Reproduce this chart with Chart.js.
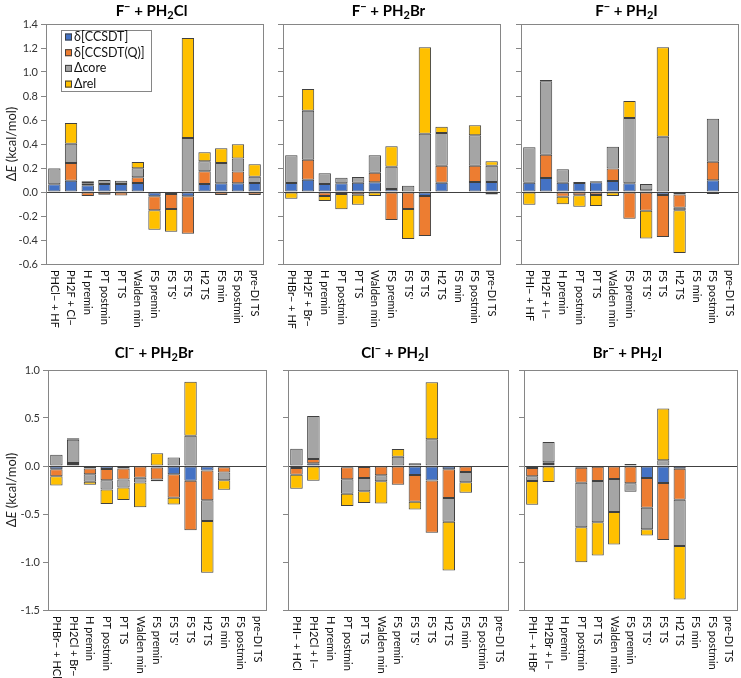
<!DOCTYPE html>
<html>
<head>
<meta charset="utf-8">
<script src="https://cdn.jsdelivr.net/npm/chart.js@4.4.0/dist/chart.umd.min.js"></script>
<style>
  body { margin: 0; background: #fff; width: 741px; height: 678px; position: relative; overflow: hidden; }
  .panel { position: absolute; }
</style>
</head>
<body>
<script>
/* ============================================================
   DATA
============================================================ */

const seriesNames = ["δ[CCSDT]", "δ[CCSDT(Q)]", "Δcore", "Δrel"];

const commonCats = ["H premin", "PT postmin", "PT TS", "Walden min", "FS premin",
                    "FS TS'", "FS TS", "H2 TS", "FS min", "FS postmin", "pre-DI TS"];

const cats1 = ["PHCl− + HF", "PH2F + Cl−"].concat(commonCats);
const cats2 = ["PHBr− + HF", "PH2F + Br−"].concat(commonCats);
const cats3 = ["PHI− + HF", "PH2F + I−"].concat(commonCats);
const cats4 = ["PHBr− + HCl", "PH2Cl + Br−"].concat(commonCats);
const cats5 = ["PHI− + HCl", "PH2Cl + I−"].concat(commonCats);
const cats6 = ["PHI− + HBr", "PH2Br + I−"].concat(commonCats);

// titles as [text, style] pieces (sup / sub)
const title1 = [["F"], ["−", "sup"], [" + PH"], ["2", "sub"], ["Cl"]];
const title2 = [["F"], ["−", "sup"], [" + PH"], ["2", "sub"], ["Br"]];
const title3 = [["F"], ["−", "sup"], [" + PH"], ["2", "sub"], ["I"]];
const title4 = [["Cl"], ["−", "sup"], [" + PH"], ["2", "sub"], ["Br"]];
const title5 = [["Cl"], ["−", "sup"], [" + PH"], ["2", "sub"], ["I"]];
const title6 = [["Br"], ["−", "sup"], [" + PH"], ["2", "sub"], ["I"]];

const yTitle = [["Δ"], ["E", "i"], [" (kcal/mol)"]];

// F- + PH2Cl
const p1Ccsdt  = [0.065, 0.094, 0.056, 0.067, 0.067, 0.075, -0.036, -0.017, -0.036, 0.067, 0.072, 0.072, 0.075];
const p1Ccsdtq = [null, 0.148, -0.033, -0.022, -0.030, 0.047, -0.117, -0.125, -0.311, 0.106, -0.025, 0.098, -0.025];
const p1Core   = [0.130, 0.161, 0.016, 0.033, 0.027, 0.075, null, null, 0.450, 0.083, 0.170, 0.110, 0.053];
const p1Rel    = [0.005, 0.172, 0.017, null, null, 0.053, -0.161, -0.190, 0.833, 0.075, 0.122, 0.117, 0.103];

// F- + PH2Br
const p2Ccsdt  = [0.075, 0.103, 0.067, 0.072, 0.078, 0.081, 0.025, null, -0.033, 0.078, null, 0.083, 0.083];
const p2Ccsdtq = [null, 0.166, -0.033, -0.017, -0.022, 0.080, -0.233, -0.142, -0.334, 0.141, null, 0.136, -0.020];
const p2Core   = [0.231, 0.409, 0.089, 0.047, 0.047, 0.145, 0.186, 0.053, 0.486, 0.273, null, 0.253, 0.136];
const p2Rel    = [-0.056, 0.180, -0.042, -0.127, -0.084, -0.033, 0.170, -0.250, 0.720, 0.052, null, 0.084, 0.037];

// F- + PH2I
const p3Ccsdt  = [0.078, 0.117, 0.078, 0.075, 0.081, 0.092, 0.072, 0.014, -0.025, -0.020, null, 0.097, null];
const p3Ccsdtq = [null, 0.193, -0.040, -0.028, -0.025, 0.103, -0.222, -0.156, -0.350, -0.111, null, 0.156, null];
const p3Core   = [0.295, 0.612, 0.112, 0.008, 0.008, 0.183, 0.545, 0.053, 0.461, -0.022, null, 0.357, null];
const p3Rel    = [-0.106, 0.011, -0.063, -0.094, -0.092, -0.033, 0.141, -0.231, 0.745, -0.355, null, -0.017, null];

// Cl- + PH2Br
const p4Ccsdt  = [-0.033, 0.010, -0.026, -0.030, -0.026, -0.004, -0.015, -0.085, -0.154, -0.047, -0.012, null, null];
const p4Ccsdtq = [-0.073, 0.020, -0.059, -0.118, -0.114, -0.119, -0.125, -0.247, -0.515, -0.309, -0.055, null, null];
const p4Core   = [0.117, 0.243, -0.080, -0.097, -0.084, -0.049, -0.018, 0.089, 0.315, -0.216, -0.081, null, null];
const p4Rel    = [-0.097, 0.017, -0.031, -0.150, -0.129, -0.258, 0.134, -0.069, 0.563, -0.539, -0.100, null, null];

// Cl- + PH2I
const p5Ccsdt  = [-0.020, 0.028, null, -0.014, -0.010, -0.005, null, -0.094, -0.150, -0.035, -0.005, null, null];
const p5Ccsdtq = [-0.070, 0.045, null, -0.125, -0.115, -0.092, -0.195, -0.278, -0.545, -0.299, -0.058, null, null];
const p5Core   = [0.180, 0.449, null, -0.150, -0.139, -0.063, 0.097, 0.028, 0.278, -0.246, -0.107, null, null];
const p5Rel    = [-0.146, -0.153, null, -0.128, -0.122, -0.230, 0.080, -0.080, 0.595, -0.508, -0.108, null, null];

// Br- + PH2I
const p6Ccsdt  = [-0.020, 0.020, null, -0.017, -0.007, null, 0.010, -0.125, -0.178, -0.028, null, null, null];
const p6Ccsdtq = [-0.088, 0.020, null, -0.157, -0.150, -0.136, -0.180, -0.310, -0.594, -0.323, null, null, null];
const p6Core   = [-0.049, 0.210, null, -0.463, -0.428, -0.344, -0.088, -0.225, 0.059, -0.483, null, null, null];
const p6Rel    = [-0.247, -0.167, null, -0.366, -0.348, -0.338, 0.010, -0.064, 0.541, -0.556, null, null, null];


/* ============================================================
   LAYOUT + STYLE
============================================================ */

const colors = ["#4472C4", "#ED7D31", "#A5A5A5", "#FFC000"];
const FONT = "Lato, 'Open Sans', sans-serif";

const rows = [
    { top: 0,   h: 335, T: 24,  B: 264, min: -0.6, max: 1.4, step: 0.2, titleY: 11 },
    { top: 335, h: 343, T: 370, B: 610, min: -1.5, max: 1.0, step: 0.5, titleY: 18 }
];

const panels = [
    { title: title1, cats: cats1, series: [p1Ccsdt, p1Ccsdtq, p1Core, p1Rel], row: 0, L: 46,  R: 263, yLabels: true,  legend: true },
    { title: title2, cats: cats2, series: [p2Ccsdt, p2Ccsdtq, p2Core, p2Rel], row: 0, L: 283, R: 500, yLabels: false, legend: false },
    { title: title3, cats: cats3, series: [p3Ccsdt, p3Ccsdtq, p3Core, p3Rel], row: 0, L: 521, R: 738, yLabels: false, legend: false },
    { title: title4, cats: cats4, series: [p4Ccsdt, p4Ccsdtq, p4Core, p4Rel], row: 1, L: 48,  R: 266, yLabels: true,  legend: false },
    { title: title5, cats: cats5, series: [p5Ccsdt, p5Ccsdtq, p5Core, p5Rel], row: 1, L: 288, R: 508, yLabels: false, legend: false },
    { title: title6, cats: cats6, series: [p6Ccsdt, p6Ccsdtq, p6Core, p6Rel], row: 1, L: 524, R: 737, yLabels: false, legend: false }
];

const YAXIS_W = 46;


/* ============================================================
   RICH TEXT (sup / sub / italic)
============================================================ */

function pieceFont(style, size, weight) {
    const s = (style === "sup" || style === "sub") ? Math.round(size * 0.7) : size;
    const it = style === "i" ? "italic " : "";
    return `${it}${weight} ${s}px ${FONT}`;
}

function drawRich(ctx, pieces, cx, cy, size, weight) {
    let total = 0;
    pieces.forEach(p => {
        ctx.font = pieceFont(p[1], size, weight);
        total += ctx.measureText(p[0]).width;
    });
    let x = cx - total / 2;
    ctx.textAlign = "left";
    ctx.textBaseline = "middle";
    pieces.forEach(p => {
        ctx.font = pieceFont(p[1], size, weight);
        let dy = 0;
        if (p[1] === "sup") dy = -size * 0.3;
        if (p[1] === "sub") dy = size * 0.28;
        ctx.fillText(p[0], x, cy + dy);
        x += ctx.measureText(p[0]).width;
    });
}


/* ============================================================
   DECORATION PLUGIN
============================================================ */

const deco = {
    id: "deco",
    beforeDatasetsDraw(chart) {
        const { ctx, chartArea: a, scales } = chart;
        const y0 = Math.round(scales.y.getPixelForValue(0)) + 0.5;
        ctx.save();
        ctx.strokeStyle = "#404040";
        ctx.lineWidth = 1;
        ctx.beginPath();
        ctx.moveTo(a.left, y0);
        ctx.lineTo(a.right, y0);
        ctx.stroke();
        ctx.restore();
    },
    afterDraw(chart, args, opts) {
        const { ctx, chartArea: a, scales } = chart;
        const p = opts.panel;
        const row = rows[p.row];

        ctx.save();

        // plot border
        ctx.strokeStyle = "#868686";
        ctx.lineWidth = 1;
        ctx.strokeRect(Math.round(a.left) + 0.5, Math.round(a.top) + 0.5,
                       Math.round(a.right - a.left), Math.round(a.bottom - a.top));

        // title
        ctx.fillStyle = "#000";
        drawRich(ctx, p.title, (a.left + a.right) / 2 - 3, row.titleY, 15, "bold");

        // y title
        if (p.yLabels) {
            ctx.save();
            ctx.translate(12 - (p.L - YAXIS_W), (a.top + a.bottom) / 2);
            ctx.rotate(-Math.PI / 2);
            ctx.fillStyle = "#222";
            drawRich(ctx, yTitle, 0, 0, 13, "normal");
            ctx.restore();
        }

        // category labels, rotated to read top-to-bottom
        ctx.fillStyle = "#111";
        ctx.font = `11px ${FONT}`;
        ctx.textAlign = "left";
        ctx.textBaseline = "middle";
        chart.data.labels.forEach((lab, i) => {
            const x = scales.x.getPixelForValue(i);
            ctx.save();
            ctx.translate(x, a.bottom + 6);
            ctx.rotate(Math.PI / 2);
            ctx.fillText(lab, 0, 0);
            ctx.restore();
        });

        // legend inside first panel
        if (p.legend) {
            ctx.font = `12.5px ${FONT}`;
            let tw = 0;
            seriesNames.forEach(n => { tw = Math.max(tw, ctx.measureText(n).width); });
            const lx = a.left + 15, ly = a.top + 6, lw = Math.round(tw + 19), lh = 61;
            ctx.fillStyle = "#fff";
            ctx.fillRect(lx, ly, lw, lh);
            ctx.strokeStyle = "#868686";
            ctx.strokeRect(lx + 0.5, ly + 0.5, lw, lh);
            ctx.textBaseline = "middle";
            seriesNames.forEach((n, k) => {
                const cy = ly + 7 + k * 15.7;
                ctx.fillStyle = colors[k];
                ctx.fillRect(lx + 4, cy - 3.5, 7, 7);
                ctx.strokeStyle = "#404040";
                ctx.strokeRect(lx + 4.5, cy - 3, 6, 6);
                ctx.fillStyle = "#111";
                ctx.fillText(n, lx + 13, cy);
            });
        }

        ctx.restore();
    }
};


/* ============================================================
   BUILD CHARTS
============================================================ */

function fmtTick(v) {
    if (Math.abs(v) < 1e-9) return "0.0";
    return v.toFixed(1);
}

panels.forEach(p => {
    const row = rows[p.row];
    const left = p.L - YAXIS_W;
    const width = p.R - left + 4;

    const div = document.createElement("div");
    div.className = "panel";
    div.style.left = left + "px";
    div.style.top = row.top + "px";
    const canvas = document.createElement("canvas");
    canvas.width = width;
    canvas.height = row.h;
    canvas.style.width = width + "px";
    canvas.style.height = row.h + "px";
    div.appendChild(canvas);
    document.body.appendChild(div);

    new Chart(canvas, {
        type: "bar",
        data: {
            labels: p.cats,
            datasets: seriesNames.map((n, k) => ({
                label: n,
                data: p.series[k],
                backgroundColor: colors[k],
                borderColor: "#404040",
                borderWidth: 1,
                borderSkipped: false,
                categoryPercentage: 0.74,
                barPercentage: 1
            }))
        },
        options: {
            responsive: false,
            animation: false,
            devicePixelRatio: 1,
            layout: { padding: { left: 0, right: 4, top: row.T - row.top, bottom: 0 } },
            plugins: {
                legend: { display: false },
                title: { display: false },
                tooltip: { enabled: false },
                deco: { panel: p }
            },
            scales: {
                x: {
                    stacked: true,
                    grid: { display: false },
                    border: { display: false },
                    ticks: { display: false },
                    afterFit: s => { s.height = row.top + row.h - row.B; }
                },
                y: {
                    stacked: true,
                    min: row.min,
                    max: row.max,
                    ticks: {
                        stepSize: row.step,
                        display: p.yLabels,
                        callback: v => fmtTick(v),
                        font: { family: FONT, size: 11 },
                        color: "#333",
                        padding: 3
                    },
                    grid: { drawOnChartArea: false, drawTicks: true, tickLength: 5, color: "#868686" },
                    border: { display: false },
                    afterFit: s => { s.width = YAXIS_W; }
                }
            }
        },
        plugins: [deco]
    });
});
</script>
</body>
</html>
